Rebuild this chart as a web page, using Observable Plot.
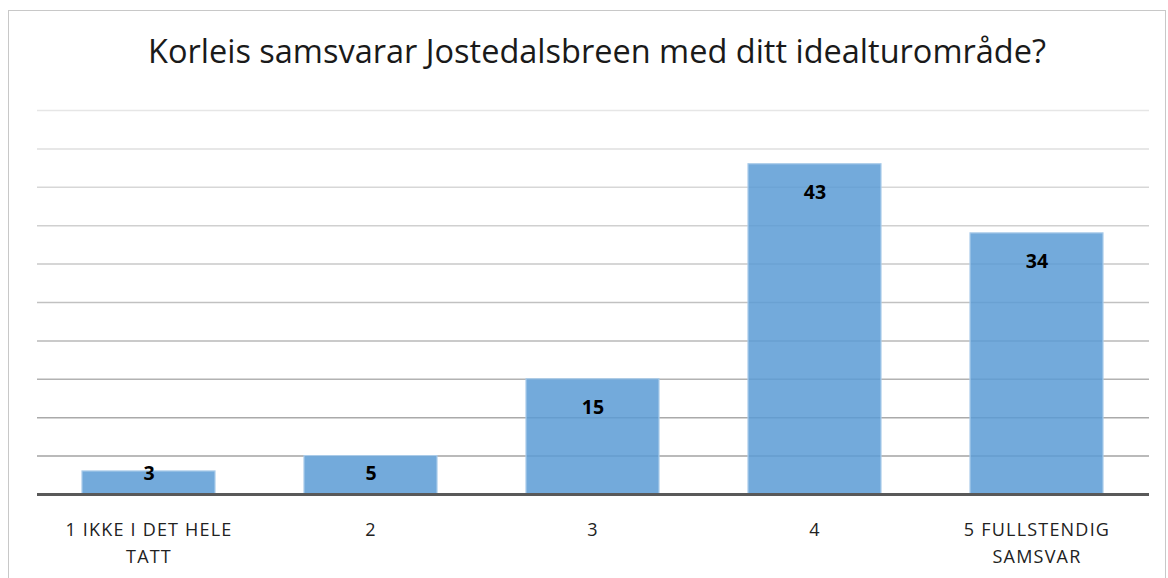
<!DOCTYPE html>
<html>
<head>
<meta charset="utf-8">
<script src="https://cdn.jsdelivr.net/npm/d3@7"></script>
<script src="https://cdn.jsdelivr.net/npm/@observablehq/plot@0.6"></script>
<style>
  html, body { margin: 0; padding: 0; background: #fff; overflow: hidden; }
  #frame { position: absolute; left: 8px; top: 10px; width: 1158px; height: 600px; border: 1.5px solid #c8c8c8; box-sizing: border-box; }
  #wrap { position: absolute; left: 0; top: 0; width: 1168px; }
  #title { height: 90px; line-height: 90px; text-align: center; font-family: "Open Sans", sans-serif; font-size: 32.5px; color: #1a1a1a; padding-left: 26px; box-sizing: border-box; padding-top: 6px; white-space: nowrap; }
  g[aria-label="x-axis tick label"] text { letter-spacing: 1.2px; }
</style>
</head>
<body>
<div id="frame"></div>
<div id="wrap">
  <div id="title">Korleis samsvarar Jostedalsbreen med ditt idealturområde?</div>
  <div id="chart"></div>
</div>
<script>
const categories = ["1 IKKE I DET HELE\nTATT", "2", "3", "4", "5 FULLSTENDIG\nSAMSVAR"];
const counts = [3, 5, 15, 43, 34];
const gridValues = [5, 10, 15, 20, 25, 30, 35, 40, 45, 50];

const data = categories.map((c, i) => ({category: c, value: counts[i]}));
const gridShade = d3.interpolateRgb("#e6e6e6", "#a3a3a3");

const chart = Plot.plot({
  width: 1168,
  height: 488,
  marginTop: 20,
  marginBottom: 84,
  marginLeft: 37,
  marginRight: 19,
  style: {fontFamily: "'Open Sans', sans-serif", fontSize: "16px", background: "transparent"},
  x: {domain: categories, paddingInner: 0.4, paddingOuter: 0.2, label: null},
  y: {domain: [0, 50], axis: null},
  marks: [
    Plot.ruleY(gridValues, {stroke: d => gridShade((50 - d) / 45), strokeWidth: 1.5}),
    Plot.barY(data, {x: "category", y: "value", fill: "#5b9bd5", fillOpacity: 0.85, stroke: "#a9cbe9", strokeWidth: 1.2}),
    Plot.ruleY([0], {stroke: "#595959", strokeWidth: 3}),
    Plot.text(data, {x: "category", y: d => Math.max(d.value - 3.7, 2.7), text: d => String(d.value), fontWeight: "bold", fontSize: 19.5, fill: "#000"}),
    Plot.axisX({tickSize: 0, tickPadding: 22, fontSize: 18, lineHeight: 1.5, fill: "#222", label: null})
  ]
});
document.getElementById("chart").appendChild(chart);
</script>
</body>
</html>
